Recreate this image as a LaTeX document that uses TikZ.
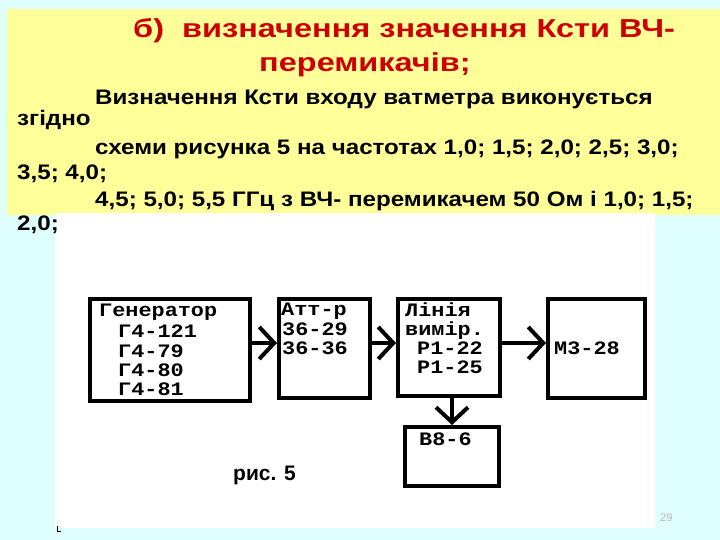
\documentclass[tikz,border=0pt]{standalone}
\usepackage{fontspec}
\setmainfont{Liberation Sans}
\newfontfamily\titlefont[FakeStretch=1.25]{Liberation Sans}
\newfontfamily\bodyfont[FakeStretch=1.15]{Liberation Sans}
\newfontfamily\monofont[FakeStretch=1.15]{Liberation Mono}
\usetikzlibrary{arrows.meta}
\definecolor{bgcyan}{HTML}{DFFFFF}
\definecolor{slideyellow}{HTML}{FFFF99}
\definecolor{titlered}{HTML}{CC0000}
\definecolor{pagegray}{HTML}{B8B8B8}
\begin{document}
\begin{tikzpicture}[x=1pt,y=-1pt,
  box/.style={draw=black, line width=4pt, inner sep=0pt, fill=white},
  arr/.style={line width=4pt, -{Straight Barb[length=15pt,width=32pt,line width=4pt]}},
  bodytext/.style={anchor=base west, inner sep=0pt, text height=15pt, text depth=4pt, font=\bodyfont\bfseries\fontsize{21}{25}\selectfont},
  titletext/.style={anchor=base west, inner sep=0pt, text=titlered, font=\titlefont\bfseries\fontsize{26}{30}\selectfont},
  dtext/.style={anchor=base west, inner sep=0pt, text height=12pt, text depth=1pt, font=\monofont\bfseries\fontsize{19}{20}\selectfont}]
\useasboundingbox (0,0) rectangle (720,540);
% backgrounds
\fill[bgcyan] (0,0) rectangle (720,540);
\fill[slideyellow] (7,9) rectangle (720,215);
\fill[white] (55,213) rectangle (655,528);
\draw[black, line width=1pt] (57,526) -- (57,531) -- (61,531);
% title
\node[titletext] (t1) at (133,38) {б)~ визначення значення Ксти ВЧ-};
\node[titletext] (t2) at (259,72) {перемикачів;};
% body
\node[bodytext] (b1) at (95,105) {Визначення Ксти входу ватметра виконується};
\node[bodytext] (b2) at (17,126) {згідно};
\node[bodytext] (b3) at (95,155) {схеми рисунка 5 на частотах 1,0; 1,5; 2,0; 2,5; 3,0;};
\node[bodytext] (b4) at (17,180) {3,5; 4,0;};
\node[bodytext] (b5) at (95,207) {4,5; 5,0; 5,5 ГГц з ВЧ- перемикачем 50 Ом і 1,0; 1,5;};
\node[bodytext] (b6) at (17,230) {2,0;};
% boxes
\node[box, minimum width=160pt, minimum height=102pt] (gen) at (170,350) {};
\node[box, minimum width=91pt, minimum height=99pt] (att) at (324.5,348.5) {};
\node[box, minimum width=102pt, minimum height=97pt] (line) at (449,347.5) {};
\node[box, minimum width=97pt, minimum height=99pt] (m3) at (596.5,348.5) {};
\node[box, minimum width=94pt, minimum height=59pt] (b8) at (452,456.5) {};
% box texts
\node[dtext] (g1) at (99,316) {Генератор};
\node[dtext] (g2) at (118,337) {Г4-121};
\node[dtext] (g3) at (118,357) {Г4-79};
\node[dtext] (g4) at (118,376) {Г4-80};
\node[dtext] (g5) at (118,395) {Г4-81};
\node[dtext] (a1) at (281,315) {Атт-р};
\node[dtext] (a2) at (282,335) {36-29};
\node[dtext] (a3) at (282,354) {36-36};
\node[dtext] (l1) at (405,316) {Лінія};
\node[dtext] (l2) at (405,335) {вимір.};
\node[dtext] (l3) at (417,354) {Р1-22};
\node[dtext] (l4) at (417,373) {Р1-25};
\node[dtext] (m1) at (554,354) {М3-28};
\node[dtext] (v1) at (419,445) {В8-6};
% connectors
\coordinate (row) at (0,343);
\draw[arr] (gen.east |- row) -- (att.west |- row);
\draw[arr] (att.east |- row) -- (line.west |- row);
\draw[arr] (line.east |- row) -- (m3.west |- row);
\draw[arr] (line.south -| b8.north) -- (b8.north);
% caption and page number
\node[anchor=base west, inner sep=0pt, font=\bfseries\fontsize{21}{25}\selectfont] (cap) at (233,480) {рис. 5};
\node[anchor=base west, inner sep=0pt, text=pagegray, font=\fontsize{11}{13}\selectfont] (pg) at (660,521) {29};
\end{tikzpicture}
\end{document}
